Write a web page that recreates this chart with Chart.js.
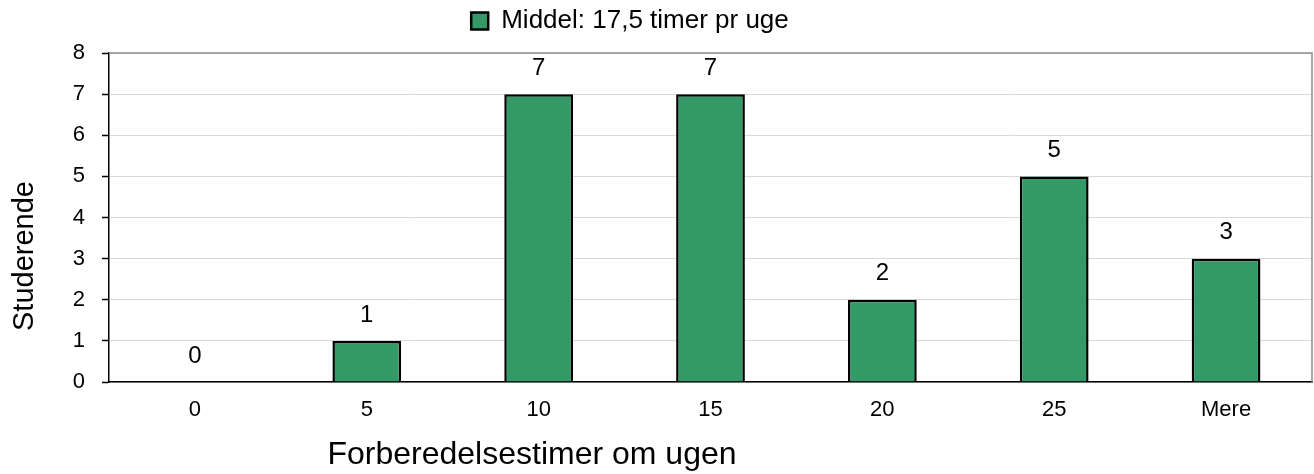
<!DOCTYPE html>
<html><head><meta charset="utf-8">
<script src="https://cdn.jsdelivr.net/npm/chart.js@4"></script>
<style>html,body{margin:0;padding:0;background:#fff}#w{width:1314px;height:474px}</style>
</head><body><div id="w"><canvas id="c"></canvas></div>
<script>
const categories = ['0','5','10','15','20','25','Mere'];
const students = [0,1,7,7,2,5,3];
const seriesLabel = 'Middel: 17,5 timer pr uge';
const yTitle = 'Studerende';
const xTitle = 'Forberedelsestimer om ugen';

const FONT = "'Liberation Sans', Arial, Helvetica, sans-serif";

const labelsPlugin = {
  id: 'vlabels',
  afterDatasetsDraw(chart) {
    const ctx = chart.ctx;
    const meta = chart.getDatasetMeta(0);
    ctx.save();
    ctx.font = '24px ' + FONT;
    ctx.fillStyle = '#000';
    ctx.textAlign = 'center';
    ctx.textBaseline = 'middle';
    meta.data.forEach((el, i) => {
      ctx.fillText(String(students[i]), el.x, el.y - 26);
    });
    ctx.restore();
  }
};
const framePlugin = {
  id: 'frame',
  afterLayout(chart) {
    const lg = chart.legend;
    if (lg) {
      const dx = 630 - (lg.left + lg.right) / 2;
      lg.left += dx; lg.right += dx;
      lg.top -= 9; lg.bottom -= 9;
    }
  },
  beforeDatasetsDraw(chart) {
    const {ctx, chartArea: a} = chart;
    ctx.save();
    ctx.strokeStyle = '#8c8c8c';
    ctx.lineWidth = 1.5;
    ctx.beginPath();
    ctx.moveTo(a.left, a.top);
    ctx.lineTo(a.right, a.top);
    ctx.lineTo(a.right, a.bottom);
    ctx.stroke();
    ctx.restore();
  },
  afterDraw(chart) {
    const ctx = chart.ctx;
    ctx.save();
    ctx.fillStyle = '#000';
    ctx.textAlign = 'center';
    ctx.textBaseline = 'alphabetic';
    ctx.font = '32px ' + FONT;
    ctx.fillText(xTitle, 532, 464);
    ctx.translate(33, 256);
    ctx.rotate(-Math.PI / 2);
    ctx.font = '29px ' + FONT;
    ctx.fillText(yTitle, 0, 0);
    ctx.restore();
  }
};

new Chart(document.getElementById('c'), {
  type: 'bar',
  data: {
    labels: categories,
    datasets: [{
      label: seriesLabel,
      data: students,
      backgroundColor: '#339966',
      borderColor: '#000',
      borderWidth: 2.5,
      categoryPercentage: 1,
      barPercentage: 0.40
    }]
  },
  options: {
    responsive: true,
    maintainAspectRatio: false,
    animation: false,
    layout: { padding: { left: 0, right: 2, top: 0, bottom: 0 } },
    plugins: {
      tooltip: { enabled: false },
      legend: {
        display: true,
        position: 'top',
        labels: {
          font: { size: 26, family: FONT },
          color: '#000',
          boxWidth: 17,
          boxHeight: 17,
          padding: 17
        }
      }
    },
    scales: {
      x: {
        grid: { display: false, drawTicks: false },
        border: { color: '#000', width: 1.5 },
        ticks: { font: { size: 22, family: FONT }, color: '#000', padding: 15 },
        afterFit(s) { s.height = 92; }
      },
      y: {
        min: 0, max: 8,
        ticks: { stepSize: 1, font: { size: 22, family: FONT }, color: '#000', padding: 17 },
        grid: { color: '#d9d9d9', lineWidth: 1, tickLength: 7, tickColor: '#000', tickWidth: 1.5 },
        border: { color: '#000', width: 1.5 },
        afterFit(s) { s.width = 109; }
      }
    }
  },
  plugins: [framePlugin, labelsPlugin]
});
</script></body></html>
